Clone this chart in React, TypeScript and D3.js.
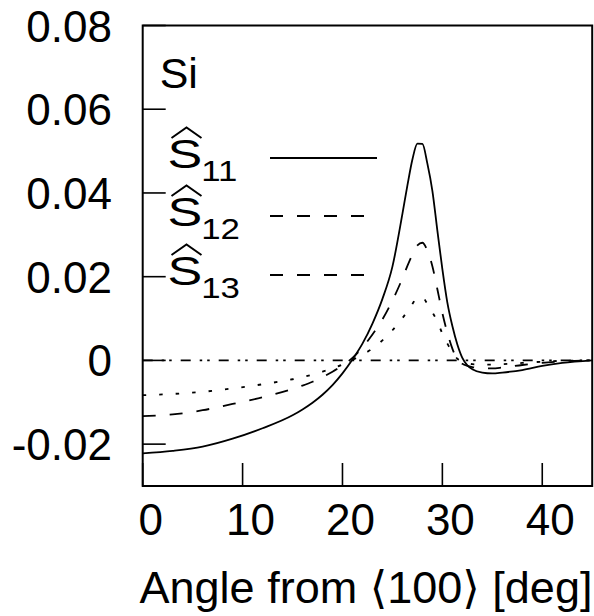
import React from "react";
import * as d3 from "d3";

const angles = [0, 3, 6, 9, 12, 15, 16, 17, 18, 19, 20, 21, 22, 23, 24, 25, 26, 26.5, 27, 27.5, 28, 28.5, 29, 29.5, 30, 30.5, 31, 31.5, 32, 32.5, 33, 34, 35, 36, 38, 40, 42, 45];
const s11 = [-0.0222, -0.0216, -0.0206, -0.0187, -0.0162, -0.0131, -0.0117, -0.0101, -0.0082, -0.0059, -0.0031, 0.0002, 0.004, 0.0088, 0.0147, 0.0224, 0.035, 0.0418, 0.048, 0.0518, 0.0517, 0.047, 0.0405, 0.031, 0.0218, 0.0138, 0.0082, 0.0038, 0.0006, -0.0012, -0.0021, -0.0029, -0.0031, -0.0029, -0.0023, -0.0013, -0.0006, 0];
const s12 = [-0.0133, -0.0129, -0.0119, -0.0104, -0.0088, -0.0068, -0.006, -0.0051, -0.004, -0.0027, -0.0012, 0.0006, 0.0031, 0.0062, 0.0098, 0.0143, 0.0196, 0.0226, 0.0253, 0.0275, 0.0281, 0.0262, 0.0225, 0.017, 0.0113, 0.0066, 0.0028, 0.0002, -0.0008, -0.0013, -0.0016, -0.0019, -0.0019, -0.0017, -0.0011, -0.0006, -0.0002, 0];
const s13 = [-0.0083, -0.008, -0.0075, -0.0067, -0.0057, -0.0045, -0.004, -0.0034, -0.0027, -0.0019, -0.001, 0.0001, 0.0014, 0.0028, 0.0048, 0.0072, 0.0101, 0.0117, 0.0135, 0.015, 0.015, 0.0135, 0.0115, 0.0093, 0.0064, 0.004, 0.002, 0.0004, -0.0004, -0.0007, -0.0009, -0.001, -0.001, -0.0009, -0.0006, -0.0003, -0.0001, 0];

const xTicks = [0, 10, 20, 30, 40];
const yTicks = [-0.02, 0, 0.02, 0.04, 0.06, 0.08];
const yTickLabels = ["-0.02", "0", "0.02", "0.04", "0.06", "0.08"];
const legendSubs = ["11", "12", "13"];
const xTitle = "Angle from \u27E8100\u27E9 [deg]";
const material = "Si";

const FONT = "'Liberation Sans', Arial, Helvetica, 'DejaVu Sans', sans-serif";

export default function App() {
  const W = 594, H = 616;
  const x = d3.scaleLinear().domain([0, 45]).range([142.7, 592.2]);
  const y = d3.scaleLinear().domain([-0.03, 0.08]).range([486, 25.5]);

  const line = (vals: number[]) =>
    d3.line<number>()
      .x((_, i) => x(angles[i]))
      .y((v) => y(v))
      .curve(d3.curveMonotoneX)(vals) as string;

  const series = [
    { vals: s11, dash: undefined as string | undefined, legDash: undefined as string | undefined, legEnd: 377 },
    { vals: s12, dash: "13,14", legDash: "13,14", legEnd: 367 },
    { vals: s13, dash: "3.5,13", legDash: "13,14", legEnd: 367 },
  ];
  const legBase = [168, 226, 285];
  const tickLen = 23;

  return (
    <svg width={W} height={H} style={{ position: "absolute", left: 0, top: 0, background: "#fff" }} fontFamily={FONT}>
      <rect x={0} y={0} width={W} height={H} fill="#fff" />
      <line x1={x(0)} x2={x(45)} y1={y(0)} y2={y(0)} stroke="#000" strokeWidth={1.6} strokeDasharray="10,9,2.5,5,2.5,9" />
      {series.map((s, i) => (
        <path key={i} d={line(s.vals)} fill="none" stroke="#000" strokeWidth={1.8} strokeDasharray={s.dash} />
      ))}
      <rect x={x(0)} y={y(0.08)} width={x(45) - x(0)} height={y(-0.03) - y(0.08)} fill="none" stroke="#000" strokeWidth={2} />
      {yTicks.map((t, i) => (
        <g key={"y" + i}>
          <line x1={x(0)} x2={x(0) + tickLen} y1={y(t)} y2={y(t)} stroke="#000" strokeWidth={1.6} />
          <text x={112} y={y(t) + 16} textAnchor="end" fontSize={44}>{yTickLabels[i]}</text>
        </g>
      ))}
      {xTicks.map((t, i) => (
        <g key={"x" + i}>
          <line x1={x(t)} x2={x(t)} y1={y(-0.03)} y2={y(-0.03) - tickLen} stroke="#000" strokeWidth={1.6} />
          <text x={x(t) + 8} y={535} textAnchor="middle" fontSize={44}>{t}</text>
        </g>
      ))}
      <text x={366} y={603} textAnchor="middle" fontSize={45}>{xTitle}</text>
      <text x={159.7} y={88} fontSize={43}>{material}</text>
      {series.map((s, i) => {
        const b = legBase[i];
        return (
          <g key={"l" + i}>
            <text transform={`translate(167.6,${b}) scale(1.27,1)`} fontSize={41}>S</text>
            <path d={`M171.5,${b - 30} L186.5,${b - 40.5} L201.5,${b - 30}`} fill="none" stroke="#000" strokeWidth={2} />
            <text transform={`translate(201.2,${b + 13}) scale(1.2,1)`} fontSize={29}>{legendSubs[i]}</text>
            <line x1={270} x2={s.legEnd} y1={b - 10} y2={b - 10} stroke="#000" strokeWidth={1.8} strokeDasharray={s.legDash} />
          </g>
        );
      })}
    </svg>
  );
}
